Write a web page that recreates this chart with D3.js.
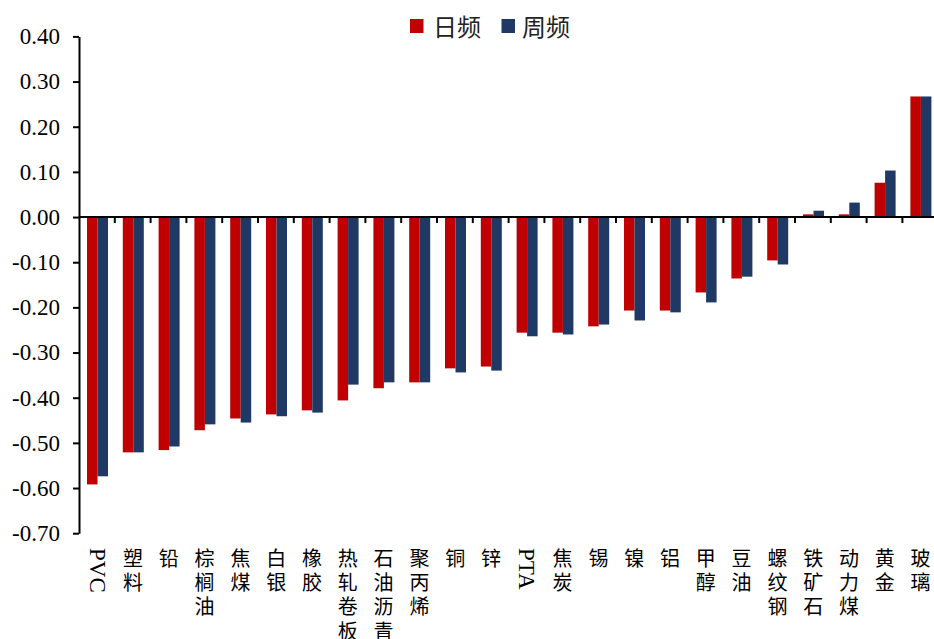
<!DOCTYPE html>
<html>
<head>
<meta charset="utf-8">
<script src="https://cdn.jsdelivr.net/npm/d3@7"></script>
<style>
  html, body { margin: 0; padding: 0; background: #fff; }
  svg { display: block; }
</style>
</head>
<body>
<svg id="chart" width="934" height="639"></svg>
<script>
// Commodity names along the x axis
const categories = ["PVC", "塑料", "铅", "棕榈油", "焦煤", "白银", "橡胶", "热轧卷板", "石油沥青", "聚丙烯",
  "铜", "锌", "PTA", "焦炭", "锡", "镍", "铝", "甲醇", "豆油", "螺纹钢", "铁矿石", "动力煤", "黄金", "玻璃"];

// Series names (legend)
const seriesNames = ["日频", "周频"];

// Daily-frequency values
const dailyValues = [-0.592, -0.521, -0.516, -0.472, -0.446, -0.437, -0.428, -0.406, -0.379, -0.366,
  -0.335, -0.331, -0.256, -0.256, -0.242, -0.207, -0.207, -0.167, -0.136, -0.096, 0.006, 0.006, 0.076, 0.267];

// Weekly-frequency values
const weeklyValues = [-0.574, -0.521, -0.508, -0.459, -0.455, -0.441, -0.433, -0.371, -0.366, -0.366,
  -0.344, -0.340, -0.264, -0.260, -0.238, -0.229, -0.211, -0.189, -0.132, -0.105, 0.014, 0.032, 0.103, 0.267];

// Y axis tick values
const yTicks = [0.40, 0.30, 0.20, 0.10, 0.00, -0.10, -0.20, -0.30, -0.40, -0.50, -0.60, -0.70];

const colors = ["#C00000", "#1F3864"];
const serif = "'Liberation Serif', 'Times New Roman', serif";
const cjk = "'Noto Sans CJK SC', 'Noto Sans', sans-serif";

const svg = d3.select("#chart");

const plotLeft = 79, plotTop = 36.4, plotBottom = 533.2;
const band = 35.8;

const y = d3.scaleLinear().domain([-0.7, 0.4]).range([plotBottom, plotTop]);
const x0 = d3.scaleBand().domain(categories).range([plotLeft, plotLeft + band * categories.length]).padding(0);
const pairW = 21;
const x1 = d3.scaleBand().domain(seriesNames)
  .range([x0.bandwidth() / 2 - pairW / 2 + 0.6, x0.bandwidth() / 2 + pairW / 2 + 0.6]).padding(0);

const rows = categories.map((c, i) => ({ cat: c, vals: [dailyValues[i], weeklyValues[i]] }));

// Bars
const groups = svg.append("g").selectAll("g").data(rows).join("g")
  .attr("transform", d => `translate(${x0(d.cat)},0)`);
groups.selectAll("rect").data(d => d.vals.map((v, k) => ({ v, k })))
  .join("rect")
  .attr("x", d => x1(seriesNames[d.k]))
  .attr("width", x1.bandwidth())
  .attr("y", d => Math.min(y(d.v), y(0)))
  .attr("height", d => Math.abs(y(d.v) - y(0)))
  .attr("fill", d => colors[d.k]);

// Y axis
const fmt = d => (Math.abs(d) < 1e-9 ? 0 : d).toFixed(2);
const yAxis = svg.append("g")
  .attr("transform", `translate(${plotLeft},0)`)
  .call(d3.axisLeft(y).tickValues(yTicks).tickFormat(fmt).tickSize(6).tickSizeOuter(0).tickPadding(13));
yAxis.select(".domain").attr("stroke", "#000").attr("stroke-width", 2);
yAxis.selectAll(".tick line").attr("stroke", "#000").attr("stroke-width", 2);
yAxis.selectAll(".tick text")
  .attr("font-family", serif).attr("font-size", 23).attr("fill", "#000");

// Zero line with tick marks at category boundaries
const zeroY = y(0);
svg.append("line")
  .attr("x1", plotLeft).attr("x2", plotLeft + band * categories.length)
  .attr("y1", zeroY).attr("y2", zeroY)
  .attr("stroke", "#000").attr("stroke-width", 2);
svg.append("g").selectAll("line").data(categories.slice(1))
  .join("line")
  .attr("x1", d => x0(d)).attr("x2", d => x0(d))
  .attr("y1", zeroY).attr("y2", zeroY + 6)
  .attr("stroke", "#000").attr("stroke-width", 2);

// Category labels, set in vertical writing mode (Latin names turn sideways)
const labelTop = 548;
const lab = svg.append("g");
categories.forEach(c => {
  const cx = x0(c) + x0.bandwidth() / 2 + 0.3;
  const latin = /^[A-Za-z]+$/.test(c);
  lab.append("text")
    .attr("x", cx).attr("y", latin ? labelTop : labelTop + 0.5)
    .style("writing-mode", "vertical-rl")
    .style("text-orientation", "mixed")
    .style("letter-spacing", latin ? "0px" : "4.2px")
    .attr("font-family", latin ? serif : cjk)
    .attr("font-size", latin ? 23 : 20)
    .attr("fill", "#000")
    .text(c);
});

// Legend
const legendItems = [{ name: seriesNames[0], sx: 410, tx: 433 }, { name: seriesNames[1], sx: 501.5, tx: 522 }];
const lg = svg.append("g");
legendItems.forEach((it, k) => {
  lg.append("rect").attr("x", it.sx).attr("y", 19).attr("width", 13.5).attr("height", 14).attr("fill", colors[k]);
  lg.append("text").attr("x", it.tx).attr("y", 25)
    .attr("dominant-baseline", "central")
    .attr("font-family", cjk).attr("font-size", 24)
    .attr("fill", "#222")
    .text(it.name);
});
</script>
</body>
</html>
